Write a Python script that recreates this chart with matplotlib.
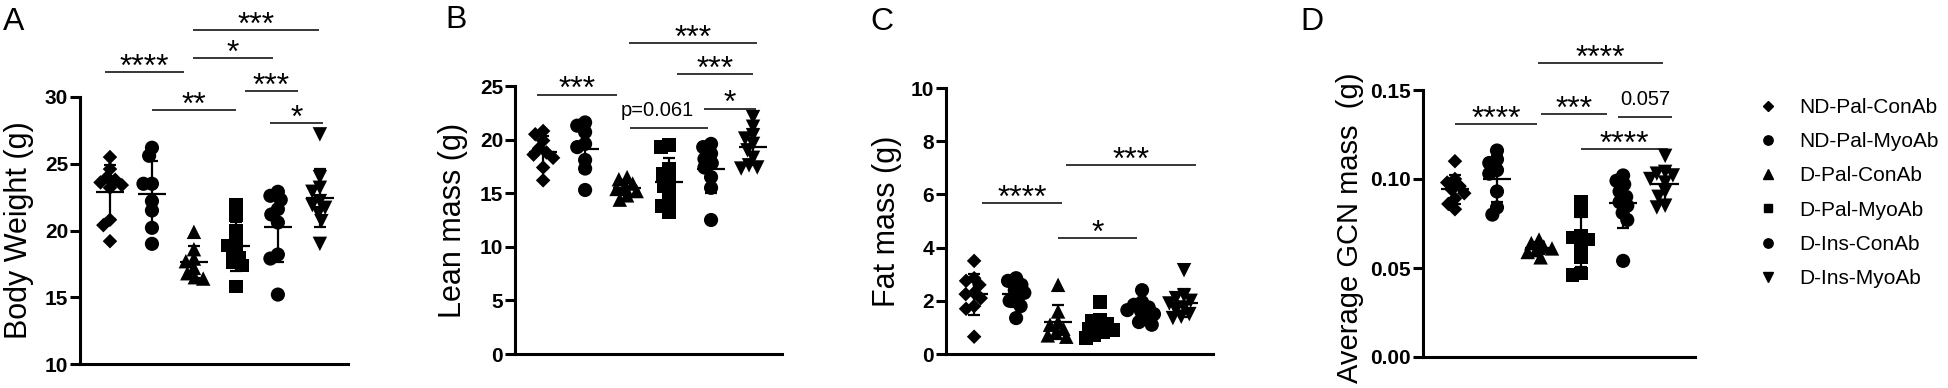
import numpy as np
import matplotlib
matplotlib.use("Agg")
import matplotlib.pyplot as plt
from matplotlib.lines import Line2D

plt.rcParams['font.family'] = ['Liberation Sans', 'DejaVu Sans']

# ---------------- data ----------------
groups = ["ND-Pal-ConAb", "ND-Pal-MyoAb", "D-Pal-ConAb",
          "D-Pal-MyoAb", "D-Ins-ConAb", "D-Ins-MyoAb"]

body_weight = [
    [25.5, 24.6, 24.0, 23.8, 23.6, 23.4, 23.2, 20.8, 20.4, 19.2],
    [26.2, 25.6, 23.5, 23.5, 22.2, 21.5, 20.2, 19.0],
    [19.9, 18.6, 17.9, 17.7, 17.2, 16.8, 16.5, 16.4],
    [21.9, 21.1, 20.0, 19.0, 18.9, 18.4, 18.0, 17.6, 17.4, 15.8],
    [22.9, 22.6, 22.3, 21.6, 21.2, 20.6, 18.2, 17.9, 15.2],
    [27.2, 24.0, 23.2, 22.9, 22.2, 21.9, 21.7, 21.3, 20.7, 19.0],
]
lean_mass = [
    [20.8, 20.5, 19.9, 19.2, 18.8, 18.6, 18.3, 17.4, 16.2],
    [21.6, 21.3, 20.7, 19.6, 19.3, 18.1, 17.3, 15.3],
    [16.5, 16.3, 15.9, 15.6, 15.4, 15.2, 14.8, 14.4],
    [19.5, 19.3, 17.3, 16.8, 16.2, 15.6, 15.0, 14.2, 13.8, 13.2],
    [19.6, 19.3, 18.7, 18.2, 17.8, 17.4, 16.5, 15.5, 12.5],
    [22.1, 21.2, 20.4, 20.1, 19.6, 19.0, 18.3, 17.6, 17.4, 17.3],
]
fat_mass = [
    [3.5, 2.85, 2.75, 2.6, 2.3, 2.25, 2.1, 1.8, 1.7, 0.65],
    [2.85, 2.75, 2.6, 2.4, 2.3, 2.1, 2.0, 1.8, 1.35],
    [2.6, 1.6, 1.2, 1.1, 0.95, 0.8, 0.7, 0.65],
    [1.95, 1.3, 1.25, 1.15, 1.0, 0.95, 0.9, 0.8, 0.7, 0.6],
    [2.4, 1.95, 1.85, 1.75, 1.65, 1.6, 1.5, 1.35, 1.2, 1.1],
    [3.15, 2.2, 2.1, 2.0, 1.9, 1.75, 1.65, 1.5, 1.4, 1.35],
]
gcn_mass = [
    [0.110, 0.100, 0.098, 0.096, 0.094, 0.092, 0.089, 0.086, 0.083],
    [0.116, 0.111, 0.109, 0.105, 0.103, 0.093, 0.084, 0.080],
    [0.066, 0.064, 0.062, 0.061, 0.060, 0.059, 0.056],
    [0.087, 0.082, 0.068, 0.067, 0.066, 0.063, 0.056, 0.047, 0.046],
    [0.102, 0.099, 0.097, 0.093, 0.090, 0.087, 0.085, 0.081, 0.077, 0.054],
    [0.113, 0.104, 0.103, 0.102, 0.100, 0.098, 0.093, 0.090, 0.085, 0.084],
]

# significance annotations: (label, from group, to group, level)
sig_a = [("****", -0.12, 1.76, 31.87), ("**", 1.0, 3.0, 29.0),
         ("*", 1.98, 3.88, 32.9), ("***", 1.98, 4.98, 35.0),
         ("***", 3.21, 4.48, 30.45), ("*", 3.81, 5.07, 28.05)]
sig_b = [("***", -0.14, 1.76, 24.2), ("p=0.061", 2.07, 3.93, 21.1),
         ("*", 3.83, 5.07, 22.9), ("***", 3.19, 5.0, 26.1),
         ("***", 2.05, 5.1, 29.0)]
sig_c = [("****", 0.19, 2.1, 5.68), ("*", 2.0, 3.88, 4.36),
         ("***", 2.19, 5.29, 7.1)]
sig_d = [("****", 0.0, 1.95, 0.1309), ("***", 2.05, 3.62, 0.1365),
         ("0.057", 3.88, 5.17, 0.1348), ("****", 3.0, 5.07, 0.1169),
         ("****", 1.98, 4.95, 0.165)]

ylabels = ["Body Weight (g)", "Lean mass (g)", "Fat mass (g)", "Average GCN mass  (g)"]
panel_letters = ["A", "B", "C", "D"]
yticks_list = [[10, 15, 20, 25, 30], [0, 5, 10, 15, 20, 25],
               [0, 2, 4, 6, 8, 10], [0.00, 0.05, 0.10, 0.15]]

# ---------------- styles ----------------
markers = ['D', 'o', '^', 's', 'o', 'v']
msizes = [7.4, 10.2, 10.4, 9.6, 10.2, 10.4]   # points

W, H = 1949, 388
fig = plt.figure(figsize=(W / 100, H / 100), dpi=100)

def px_axes(x0, x1, ytop, ybot):
    return [x0 / W, 1 - ybot / H, (x1 - x0) / W, (ybot - ytop) / H]

axes_px = [(80, 348, 97, 364), (515, 782, 86, 354),
           (946, 1213, 88, 354), (1423, 1695, 90, 357)]
xlims = [(-0.714, 5.67), (-0.67, 5.69), (-0.67, 5.69), (-0.76, 5.71)]
ylims = [(10, 30), (0, 25), (0, 10), (0, 0.15)]
datasets = [body_weight, lean_mass, fat_mass, gcn_mass]
sigs = [sig_a, sig_b, sig_c, sig_d]
ylabel_pos = [(19, 230, 22), (453, 220, 22), (887, 221, 22), (1350, 228, 21)]
letter_pos = [(3, 30), (445, 28), (870, 30), (1300, 30)]


def swarm(ax, xc, vals, dmin):
    tr = ax.transData
    ys = tr.transform(np.column_stack([np.full(len(vals), xc), vals]))[:, 1]
    order = np.argsort(-ys)
    placed = []
    offs = np.zeros(len(vals))
    for i in order:
        y = ys[i]
        cands = [0.0]
        for (xj, yj) in placed:
            dy = abs(y - yj)
            if dy < dmin:
                dx = np.sqrt(dmin ** 2 - dy ** 2)
                cands += [xj - dx, xj + dx]
        cands = sorted(cands, key=lambda c: (round(abs(c), 6), c))
        chosen = 0.0
        for c in cands:
            if all((c - xj) ** 2 + (y - yj) ** 2 >= dmin ** 2 - 1e-6 for xj, yj in placed):
                chosen = c
                break
        offs[i] = chosen
        placed.append((chosen, y))
    ppu = tr.transform((1, 0))[0] - tr.transform((0, 0))[0]
    return xc + offs / ppu


for k in range(4):
    ax = fig.add_axes(px_axes(*axes_px[k]))
    ax.set_xlim(*xlims[k])
    ax.set_ylim(*ylims[k])
    for s in ['top', 'right']:
        ax.spines[s].set_visible(False)
    for s in ['left', 'bottom']:
        ax.spines[s].set_linewidth(2.2)
    ax.set_xticks([])
    ax.set_yticks(yticks_list[k])
    if k == 3:
        ax.set_yticklabels([f"{t:.2f}" for t in yticks_list[k]])
    ax.tick_params(axis='y', length=7, width=2.2, pad=1.5, labelsize=15)
    for lab in ax.get_yticklabels():
        lab.set_fontweight('bold')

    data = datasets[k]
    for g, vals in enumerate(data):
        vals = np.asarray(vals, dtype=float)
        xs = swarm(ax, g, vals, 8.5)
        ax.scatter(xs, vals, marker=markers[g], s=msizes[g] ** 2,
                   color='black', edgecolors='none', zorder=2)
        m = vals.mean()
        sd = vals.std(ddof=1)
        ax.hlines(m, g - 0.33, g + 0.33, color='black', lw=1.6, zorder=3)
        ax.vlines(g, m - sd, m + sd, color='black', lw=1.6, zorder=3)
        ax.hlines([m - sd, m + sd], g - 0.14, g + 0.14, color='black', lw=1.6, zorder=3)

    for (lab, x1, x2, yv) in sigs[k]:
        ax.plot([x1, x2], [yv, yv], color='black', lw=1.1, clip_on=False,
                solid_capstyle='butt')
        if lab.startswith('*'):
            ax.annotate(lab, xy=((x1 + x2) / 2, yv), xytext=(0, -2.6),
                        textcoords='offset points', ha='center', va='baseline',
                        fontsize=23, annotation_clip=False)
        elif lab.startswith('p='):
            ax.annotate(lab, xy=(2.71, yv), xytext=(0, 8.6),
                        textcoords='offset points', ha='center', va='baseline',
                        fontsize=14.5, annotation_clip=False)
        else:
            ax.annotate(lab, xy=((x1 + x2) / 2, yv), xytext=(0, 8.6),
                        textcoords='offset points', ha='center', va='baseline',
                        fontsize=14.5, annotation_clip=False)

    lx, ly, lfs = ylabel_pos[k]
    fig.text(lx / W, 1 - ly / H, ylabels[k], rotation=90, ha='center',
             va='center', fontsize=lfs)
    px, py = letter_pos[k]
    fig.text(px / W, 1 - py / H, panel_letters[k], ha='left', va='baseline',
             fontsize=23)

handles = [Line2D([], [], marker=markers[g], color='black', ls='none',
                  markersize=msizes[g] * 0.66) for g in range(6)]
fig.legend(handles, groups, loc='upper left', bbox_to_anchor=(1757.6 / W, 1 - 98 / H),
           frameon=False, fontsize=15, handlelength=1.0, handletextpad=1.0,
           labelspacing=0.73, borderpad=0, borderaxespad=0)

fig.savefig("out.png", dpi=100)
